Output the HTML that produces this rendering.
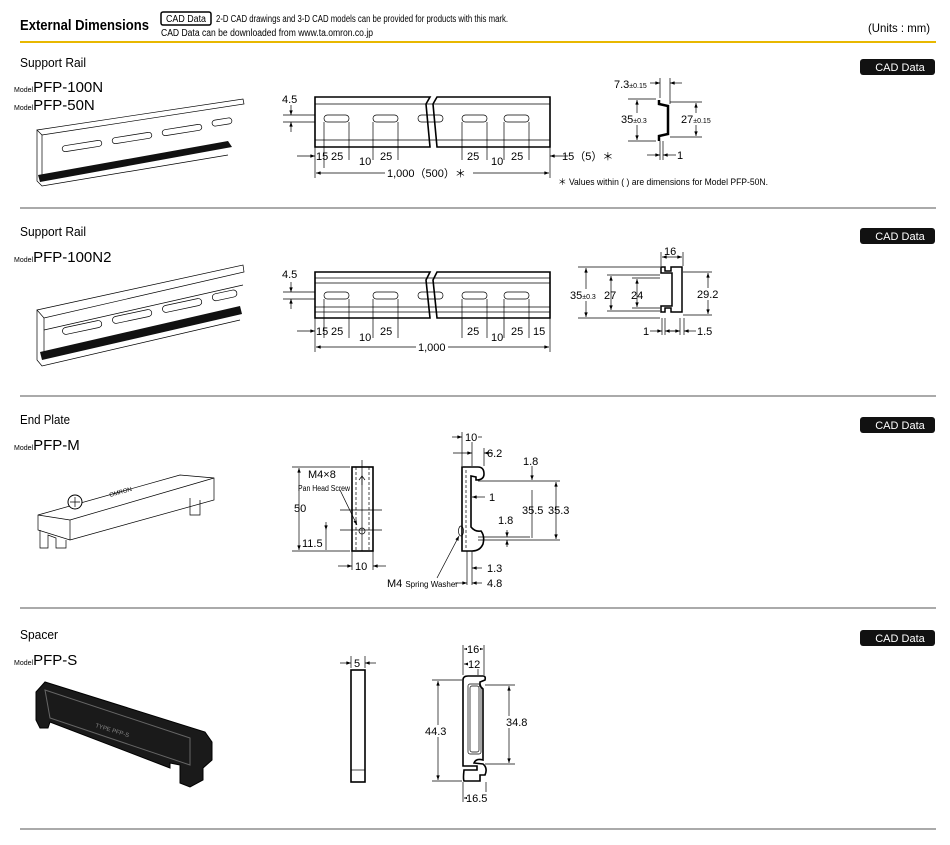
<!DOCTYPE html>
<html><head><meta charset="utf-8"><style>
body{margin:0;background:#fff}
svg{display:block}
text{font-family:"Liberation Sans",sans-serif;fill:#000}
.d{font-size:11px}
.l{stroke:#000;stroke-width:.7;fill:none}
.t{stroke:#000;stroke-width:1.6;fill:none}
.g{stroke:#555;stroke-width:1;fill:none}
</style></head><body>
<svg width="950" height="845" viewBox="0 0 950 845" xmlns="http://www.w3.org/2000/svg">
<defs>
<marker id="a" viewBox="0 0 8 6" refX="8" refY="3" markerWidth="7" markerHeight="5" orient="auto-start-reverse"><path d="M0,0L8,3L0,6z"/></marker>
</defs>
<!-- header -->
<text x="20" y="30" font-size="15" font-weight="bold" textLength="129" lengthAdjust="spacingAndGlyphs">External Dimensions</text>
<rect x="161" y="12" width="50" height="13" rx="2" fill="#fff" stroke="#000" stroke-width="1.5"/>
<text x="166" y="22" font-size="10" textLength="40" lengthAdjust="spacingAndGlyphs">CAD Data</text>
<text x="216" y="22" font-size="10" textLength="292" lengthAdjust="spacingAndGlyphs">2-D CAD drawings and 3-D CAD models can be provided for products with this mark.</text>
<text x="161" y="36" font-size="10" textLength="212" lengthAdjust="spacingAndGlyphs">CAD Data can be downloaded from www.ta.omron.co.jp</text>
<text x="868" y="32" font-size="12" textLength="62" lengthAdjust="spacingAndGlyphs">(Units : mm)</text>
<line x1="20" y1="42" x2="936" y2="42" stroke="#e8b800" stroke-width="2"/>
<g class="g"><line x1="20" y1="208" x2="936" y2="208"/><line x1="20" y1="396" x2="936" y2="396"/><line x1="20" y1="608" x2="936" y2="608"/><line x1="20" y1="829" x2="936" y2="829"/></g>
<!-- CAD buttons -->
<g font-size="11" text-anchor="middle"><rect x="860" y="59" width="75" height="16" rx="3" fill="#111"/><text x="900" y="71" style="fill:#fff">CAD Data</text>
<rect x="860" y="228" width="75" height="16" rx="3" fill="#111"/><text x="900" y="240" style="fill:#fff">CAD Data</text>
<rect x="860" y="417" width="75" height="16" rx="3" fill="#111"/><text x="900" y="429" style="fill:#fff">CAD Data</text>
<rect x="860" y="630" width="75" height="16" rx="3" fill="#111"/><text x="900" y="642" style="fill:#fff">CAD Data</text></g>
<!-- titles -->
<g font-size="13"><text x="20" y="67" textLength="66" lengthAdjust="spacingAndGlyphs">Support Rail</text><text x="20" y="236" textLength="66" lengthAdjust="spacingAndGlyphs">Support Rail</text><text x="20" y="424" textLength="50" lengthAdjust="spacingAndGlyphs">End Plate</text><text x="20" y="639" textLength="38" lengthAdjust="spacingAndGlyphs">Spacer</text></g>
<g font-size="15"><text x="14" y="92"><tspan font-size="7">Model</tspan>PFP-100N</text><text x="14" y="110"><tspan font-size="7">Model</tspan>PFP-50N</text>
<text x="14" y="262"><tspan font-size="7">Model</tspan>PFP-100N2</text><text x="14" y="450"><tspan font-size="7">Model</tspan>PFP-M</text><text x="14" y="665"><tspan font-size="7">Model</tspan>PFP-S</text></g>

<!-- rail 1 iso -->
<g class="l" stroke-width="1">
<path d="M37,130 L243,99 L244,104 L42,135 Z"/>
<path d="M37,130 L37,181 L42,186 L228,155"/>
<path d="M42,135 L42,180"/>
</g>
<path d="M38,175 L228,141 L232,147 L40,182 Z" fill="#111"/>
<g class="l" stroke-width="1.2"><rect x="62" y="143" width="40" height="6" rx="3" transform="rotate(-9 82 146)"/><rect x="112" y="135" width="40" height="6" rx="3" transform="rotate(-9 132 138)"/><rect x="162" y="127" width="40" height="6" rx="3" transform="rotate(-9 182 130)"/><rect x="212" y="119" width="20" height="6" rx="3" transform="rotate(-9 222 122)"/></g>

<!-- rail 1 front -->
<g class="t"><path d="M430,97 H315 V147 H430 L426,104 Z"/><path d="M437,97 H550 V147 H437 L433,104 Z"/></g>
<g class="l"><line x1="315" y1="104" x2="550" y2="104"/><line x1="315" y1="140" x2="550" y2="140"/></g>
<g class="l" stroke-width="1"><rect x="324" y="115" width="25" height="7" rx="3.5"/><rect x="373" y="115" width="25" height="7" rx="3.5"/><rect x="418" y="115" width="25" height="7" rx="3.5"/><rect x="462" y="115" width="25" height="7" rx="3.5"/><rect x="504" y="115" width="25" height="7" rx="3.5"/></g>
<g class="l"><line x1="283" y1="115" x2="315" y2="115"/><line x1="283" y1="122" x2="315" y2="122"/>
<line x1="291" y1="105" x2="291" y2="115" marker-end="url(#a)"/><line x1="291" y1="132" x2="291" y2="122" marker-end="url(#a)"/>
<line x1="324" y1="122" x2="324" y2="168"/><line x1="349" y1="122" x2="349" y2="160"/><line x1="373" y1="122" x2="373" y2="160"/><line x1="398" y1="122" x2="398" y2="160"/>
<line x1="462" y1="122" x2="462" y2="160"/><line x1="487" y1="122" x2="487" y2="160"/><line x1="504" y1="122" x2="504" y2="160"/><line x1="529" y1="122" x2="529" y2="160"/>
<line x1="315" y1="147" x2="315" y2="178"/><line x1="550" y1="147" x2="550" y2="178"/>
<line x1="297" y1="156" x2="315" y2="156" marker-end="url(#a)"/><line x1="568" y1="156" x2="550" y2="156" marker-end="url(#a)"/>
<line x1="316" y1="173" x2="549" y2="173" marker-start="url(#a)" marker-end="url(#a)"/></g>
<g class="d"><text x="282" y="103">4.5</text><text x="316" y="160">15</text><text x="331" y="160">25</text><text x="359" y="165">10</text><text x="380" y="160">25</text><text x="467" y="160">25</text><text x="491" y="165">10</text><text x="511" y="160">25</text><text x="562" y="160">15（5）＊</text>
<rect x="385" y="167" width="88" height="11" fill="#fff" stroke="none"/><text x="387" y="177">1,000（500）＊</text>
<text x="558" y="185" font-size="9" textLength="210" lengthAdjust="spacingAndGlyphs">＊ Values within ( ) are dimensions for Model PFP-50N.</text></g>

<!-- profile 1 -->
<path d="M659,100 V104 L668,106 V134 L659,136 V141" stroke="#000" stroke-width="2.5" fill="none"/>
<g class="l"><line x1="660" y1="98" x2="660" y2="78"/><line x1="670" y1="104" x2="670" y2="78"/>
<line x1="650" y1="83" x2="660" y2="83" marker-end="url(#a)"/><line x1="682" y1="83" x2="670" y2="83" marker-end="url(#a)"/>
<line x1="628" y1="99" x2="656" y2="99"/><line x1="628" y1="141" x2="656" y2="141"/><line x1="637" y1="100" x2="637" y2="140" marker-start="url(#a)" marker-end="url(#a)"/>
<line x1="670" y1="102" x2="702" y2="102"/><line x1="670" y1="137" x2="702" y2="137"/><line x1="696" y1="103" x2="696" y2="136" marker-start="url(#a)" marker-end="url(#a)"/>
<line x1="660" y1="141" x2="660" y2="160"/><line x1="663" y1="141" x2="663" y2="160"/><line x1="647" y1="155" x2="660" y2="155" marker-end="url(#a)"/><line x1="676" y1="155" x2="663" y2="155" marker-end="url(#a)"/></g>
<g class="d"><text x="614" y="88">7.3<tspan font-size="7">±0.15</tspan></text><rect x="620" y="113" width="32" height="12" fill="#fff"/><text x="621" y="123">35<tspan font-size="7">±0.3</tspan></text><rect x="680" y="113" width="40" height="12" fill="#fff"/><text x="681" y="123">27<tspan font-size="7">±0.15</tspan></text><text x="677" y="159">1</text></g>

<!-- rail 2 iso -->
<g class="l" stroke-width="1"><path d="M37,310 L243,265 L244,272 L44,318 Z"/><path d="M37,310 L37,360 L42,366 L240,320"/><path d="M44,318 V352"/><path d="M44,330 L243,285"/></g>
<path d="M40,352 L240,306 L242,314 L42,360 Z" fill="#111"/>
<g class="l" stroke-width="1.2"><rect x="62" y="324" width="40" height="7" rx="3.5" transform="rotate(-12 82 327)"/><rect x="112" y="313" width="40" height="7" rx="3.5" transform="rotate(-12 132 316)"/><rect x="162" y="302" width="40" height="7" rx="3.5" transform="rotate(-12 182 305)"/><rect x="212" y="292" width="25" height="7" rx="3.5" transform="rotate(-12 224 295)"/></g>

<!-- rail 2 front -->
<g class="t"><path d="M430,272 H315 V318 H430 L426,280 Z"/><path d="M437,272 H550 V318 H437 L433,280 Z"/></g>
<g class="l"><line x1="315" y1="278" x2="550" y2="278"/><line x1="315" y1="283" x2="550" y2="283"/><line x1="315" y1="307" x2="550" y2="307"/><line x1="315" y1="312" x2="550" y2="312"/></g>
<g class="l" stroke-width="1"><rect x="324" y="292" width="25" height="7" rx="3.5"/><rect x="373" y="292" width="25" height="7" rx="3.5"/><rect x="418" y="292" width="25" height="7" rx="3.5"/><rect x="462" y="292" width="25" height="7" rx="3.5"/><rect x="504" y="292" width="25" height="7" rx="3.5"/></g>
<g class="l"><line x1="283" y1="292" x2="315" y2="292"/><line x1="283" y1="299" x2="315" y2="299"/>
<line x1="291" y1="282" x2="291" y2="292" marker-end="url(#a)"/><line x1="291" y1="309" x2="291" y2="299" marker-end="url(#a)"/>
<line x1="324" y1="299" x2="324" y2="338"/><line x1="349" y1="299" x2="349" y2="338"/><line x1="373" y1="299" x2="373" y2="338"/><line x1="398" y1="299" x2="398" y2="338"/>
<line x1="462" y1="299" x2="462" y2="338"/><line x1="487" y1="299" x2="487" y2="338"/><line x1="504" y1="299" x2="504" y2="338"/><line x1="529" y1="299" x2="529" y2="338"/>
<line x1="315" y1="318" x2="315" y2="352"/><line x1="550" y1="318" x2="550" y2="352"/>
<line x1="297" y1="331" x2="315" y2="331" marker-end="url(#a)"/>
<line x1="316" y1="347" x2="549" y2="347" marker-start="url(#a)" marker-end="url(#a)"/></g>
<g class="d"><text x="282" y="278">4.5</text><text x="316" y="335">15</text><text x="331" y="335">25</text><text x="359" y="341">10</text><text x="380" y="335">25</text><text x="467" y="335">25</text><text x="491" y="341">10</text><text x="511" y="335">25</text><text x="533" y="335">15</text>
<rect x="416" y="341" width="32" height="11" fill="#fff"/><text x="418" y="351">1,000</text></g>

<!-- profile 2 -->
<path d="M661,267 H665 V271 H671 V267 H682 V312 H671 V308 H665 V312 H661 V306 H672 V273 H661 Z" stroke="#000" stroke-width="1.5" fill="none"/>
<g class="l"><line x1="661" y1="266" x2="661" y2="252"/><line x1="683" y1="266" x2="683" y2="252"/><line x1="662" y1="257" x2="682" y2="257" marker-start="url(#a)" marker-end="url(#a)"/>
<line x1="578" y1="267" x2="660" y2="267"/><line x1="578" y1="318" x2="660" y2="318"/><line x1="586" y1="268" x2="586" y2="317" marker-start="url(#a)" marker-end="url(#a)"/>
<line x1="607" y1="275" x2="660" y2="275"/><line x1="607" y1="311" x2="660" y2="311"/><line x1="611" y1="276" x2="611" y2="310" marker-start="url(#a)" marker-end="url(#a)"/>
<line x1="632" y1="278" x2="660" y2="278"/><line x1="632" y1="308" x2="660" y2="308"/><line x1="637" y1="279" x2="637" y2="307" marker-start="url(#a)" marker-end="url(#a)"/>
<line x1="683" y1="272" x2="712" y2="272"/><line x1="683" y1="315" x2="712" y2="315"/><line x1="708" y1="273" x2="708" y2="314" marker-start="url(#a)" marker-end="url(#a)"/>
<line x1="662" y1="318" x2="662" y2="335"/><line x1="665" y1="318" x2="665" y2="335"/><line x1="680" y1="318" x2="680" y2="335"/><line x1="684" y1="318" x2="684" y2="335"/>
<line x1="650" y1="331" x2="662" y2="331" marker-end="url(#a)"/><line x1="676" y1="331" x2="665" y2="331" marker-end="url(#a)"/><line x1="670" y1="331" x2="680" y2="331" marker-end="url(#a)"/><line x1="696" y1="331" x2="684" y2="331" marker-end="url(#a)"/></g>
<g class="d"><text x="664" y="255">16</text><rect x="570" y="289" width="34" height="12" fill="#fff"/><text x="570" y="299">35<tspan font-size="7">±0.3</tspan></text><text x="604" y="299">27</text><text x="631" y="299">24</text><rect x="696" y="288" width="24" height="12" fill="#fff"/><text x="697" y="298">29.2</text><text x="643" y="335">1</text><text x="697" y="335">1.5</text></g>

<!-- end plate iso -->
<g class="l" stroke-width="1.1"><path d="M38,515 L180,475 L214,478 L214,500 L70,540 L38,530 Z"/><path d="M38,515 L70,520 L214,478"/><path d="M70,520 V540"/><path d="M40,530 V548 L48,548 V535 L56,538 V548 L66,548 V540"/><path d="M190,498 V515 L200,515 V500"/></g>
<circle cx="75" cy="502" r="7" fill="#fff" stroke="#000"/><path d="M70,502h10M75,497v10" class="l"/>
<text x="110" y="497" font-size="6" transform="rotate(-16 110 497)">OMRON</text>
<!-- end plate front -->
<rect x="352" y="467" width="21" height="84" class="t" stroke-width="1.3"/>
<g class="l" stroke-dasharray="3,2"><line x1="356" y1="467" x2="356" y2="551"/><line x1="369" y1="467" x2="369" y2="551"/></g>
<g class="l"><line x1="362" y1="460" x2="362" y2="551"/><line x1="340" y1="510" x2="382" y2="510"/><line x1="340" y1="530" x2="382" y2="530"/>
<line x1="292" y1="467" x2="350" y2="467"/><line x1="292" y1="551" x2="350" y2="551"/><line x1="299" y1="468" x2="299" y2="550" marker-start="url(#a)" marker-end="url(#a)"/>
<line x1="326" y1="530" x2="326" y2="550"/><line x1="326" y1="522" x2="326" y2="530" marker-end="url(#a)"/>
<line x1="352" y1="551" x2="352" y2="570"/><line x1="373" y1="551" x2="373" y2="570"/><line x1="338" y1="566" x2="352" y2="566" marker-end="url(#a)"/><line x1="386" y1="566" x2="373" y2="566" marker-end="url(#a)"/>
<line x1="340" y1="490" x2="357" y2="525" marker-end="url(#a)"/></g>
<circle cx="362" cy="531" r="3" class="l"/><path d="M362,485 V476 M359,480 L362,476 L365,480" class="l" stroke-width="1.5"/>
<g class="d"><text x="308" y="478">M4×8</text><text x="298" y="491" font-size="8" textLength="52" lengthAdjust="spacingAndGlyphs">Pan Head Screw</text><text x="294" y="512">50</text><text x="302" y="547">11.5</text><text x="355" y="570">10</text></g>
<!-- end plate side -->
<path d="M462,467 H478 Q484,467 484,474 Q484,480 476,480 L476,477 L471,476 L471,527 Q475,532 481,531 Q485,536 483,544 Q480,551 472,551 H462 Z" class="t" stroke-width="1.3"/>
<line x1="466" y1="470" x2="466" y2="550" class="l" stroke-dasharray="3,2"/>
<ellipse cx="461" cy="531" rx="2.5" ry="5" class="l"/>
<g class="l"><line x1="462" y1="432" x2="462" y2="466"/><line x1="472" y1="432" x2="472" y2="466"/><line x1="484" y1="448" x2="484" y2="466"/>
<line x1="452" y1="437" x2="462" y2="437" marker-end="url(#a)"/><line x1="482" y1="437" x2="472" y2="437" marker-end="url(#a)"/>
<line x1="453" y1="453" x2="472" y2="453" marker-end="url(#a)"/><line x1="493" y1="453" x2="484" y2="453" marker-end="url(#a)"/>
<line x1="478" y1="481" x2="560" y2="481"/><line x1="478" y1="540" x2="560" y2="540"/><line x1="478" y1="537" x2="530" y2="537"/>
<line x1="532" y1="466" x2="532" y2="480" marker-end="url(#a)"/><line x1="532" y1="538" x2="532" y2="490"/><line x1="556" y1="482" x2="556" y2="539" marker-start="url(#a)" marker-end="url(#a)"/>
<line x1="507" y1="530" x2="507" y2="537" marker-end="url(#a)"/><line x1="507" y1="547" x2="507" y2="540" marker-end="url(#a)"/>
<line x1="485" y1="497" x2="472" y2="497" marker-end="url(#a)"/>
<line x1="467" y1="551" x2="467" y2="585"/><line x1="472" y1="551" x2="472" y2="585"/>
<line x1="482" y1="568" x2="472" y2="568" marker-end="url(#a)"/><line x1="455" y1="583" x2="467" y2="583" marker-end="url(#a)"/><line x1="482" y1="583" x2="472" y2="583" marker-end="url(#a)"/>
<line x1="437" y1="578" x2="459" y2="536" marker-end="url(#a)"/></g>
<g class="d"><rect x="464" y="431" width="14" height="11" fill="#fff"/><text x="465" y="441">10</text><text x="487" y="457">6.2</text><text x="523" y="465">1.8</text><text x="489" y="501">1</text><text x="522" y="514">35.5</text><text x="548" y="514">35.3</text><text x="498" y="524">1.8</text><text x="487" y="572">1.3</text><text x="387" y="587">M4 <tspan font-size="8">Spring Washer</tspan></text><text x="487" y="587">4.8</text></g>

<!-- spacer iso -->
<path d="M36,692 L45,682 L205,732 L212,742 L212,760 L203,768 L203,780 L190,787 L180,783 L180,765 L170,763 L170,768 L50,722 L48,728 L40,728 L36,720 Z" fill="#1a1a1a" stroke="#000"/>
<path d="M45,690 L190,738 L190,765 L50,718 Z" fill="none" stroke="#666" stroke-width="1"/>
<text x="95" y="727" font-size="6" style="fill:#888" transform="rotate(17 95 727)">TYPE PFP-S</text>
<!-- spacer front -->
<rect x="351" y="670" width="14" height="112" class="t" stroke-width="1.3"/><line x1="351" y1="770" x2="365" y2="770" class="l"/>
<g class="l"><line x1="351" y1="656" x2="351" y2="668"/><line x1="365" y1="656" x2="365" y2="668"/><line x1="340" y1="663" x2="351" y2="663" marker-end="url(#a)"/><line x1="376" y1="663" x2="365" y2="663" marker-end="url(#a)"/></g>
<text x="354" y="667" class="d">5</text>
<!-- spacer side -->
<path d="M463,680 Q463,676 468,676 H483 Q486,676 485,680 L480,682 V686 L483,689 V760 Q476,758 474,763 L483,764 Q488,768 485,775 L480,775 V781 H464 Q463,779 464,770 H477 V766 H463 Z" class="t" stroke-width="1.3"/>
<rect x="468" y="684" width="13" height="70" rx="2" class="l" stroke-width="1"/><rect x="470" y="686" width="9" height="66" rx="2" class="l"/>
<g class="l"><line x1="463" y1="645" x2="463" y2="675"/><line x1="484" y1="645" x2="484" y2="675"/><line x1="478" y1="660" x2="478" y2="675"/>
<line x1="464" y1="649" x2="483" y2="649" marker-start="url(#a)" marker-end="url(#a)"/><line x1="464" y1="664" x2="477" y2="664" marker-start="url(#a)" marker-end="url(#a)"/>
<line x1="432" y1="680" x2="462" y2="680"/><line x1="432" y1="781" x2="462" y2="781"/><line x1="438" y1="681" x2="438" y2="780" marker-start="url(#a)" marker-end="url(#a)"/>
<line x1="485" y1="685" x2="515" y2="685"/><line x1="485" y1="764" x2="515" y2="764"/><line x1="509" y1="686" x2="509" y2="763" marker-start="url(#a)" marker-end="url(#a)"/>
<line x1="463" y1="782" x2="463" y2="802"/><line x1="486" y1="782" x2="486" y2="802"/><line x1="464" y1="798" x2="485" y2="798" marker-start="url(#a)" marker-end="url(#a)"/></g>
<g class="d"><rect x="467" y="643" width="13" height="11" fill="#fff"/><text x="467" y="653">16</text><rect x="468" y="658" width="13" height="11" fill="#fff"/><text x="468" y="668">12</text><rect x="424" y="725" width="24" height="12" fill="#fff"/><text x="425" y="735">44.3</text><rect x="505" y="716" width="24" height="12" fill="#fff"/><text x="506" y="726">34.8</text><rect x="467" y="792" width="20" height="11" fill="#fff"/><text x="466" y="802">16.5</text></g>
</svg>
</body></html>
